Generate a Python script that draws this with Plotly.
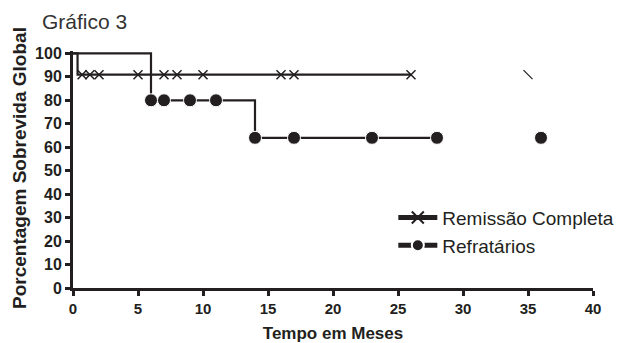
import plotly.graph_objects as go

# ---- data ----
# Remissão Completa
rc_step_times = [0, 0.35]
rc_step_surv = [100, 90.9]
rc_censor_times = [0.7, 1.3, 2, 5, 7, 8, 10, 16, 17, 26]
rc_censor_surv = [90.9] * 10
rc_orphan_times = [35]
rc_orphan_surv = [90.9]

# Refratários
rf_step_times = [0]
rf_step_surv = [100]
rf_censor_times = [6, 7, 9, 11, 14, 17, 23, 28]
rf_censor_surv = [80, 80, 80, 80, 64, 64, 64, 64]
rf_orphan_times = [36]
rf_orphan_surv = [64]

x_ticks = [0, 5, 10, 15, 20, 25, 30, 35, 40]
y_ticks = [0, 10, 20, 30, 40, 50, 60, 70, 80, 90, 100]

FONT = "Liberation Sans, Arial, sans-serif"
INK = "#231f20"

W, H = 619, 343
ML, MR, MT, MB = 73, 26, 51, 55
PW = W - ML - MR
PH = H - MT - MB


def build(step_t, step_s, cen_t, cen_s, orph_t, orph_s, msize):
    xs = list(step_t) + list(cen_t) + [None] + list(orph_t)
    ys = list(step_s) + list(cen_s) + [None] + list(orph_s)
    sizes = [0] * len(step_t) + [msize] * len(cen_t) + [0] + [msize] * len(orph_t)
    return xs, ys, sizes


fig = go.Figure()

x, y, s = build(rc_step_times, rc_step_surv, rc_censor_times, rc_censor_surv,
                [], [], 9)
fig.add_trace(go.Scatter(
    x=x, y=y, mode="lines+markers", name="Remissão Completa",
    line=dict(color=INK, width=2.2, shape="hv"),
    marker=dict(symbol="x-thin-open", size=s, color=INK, opacity=1,
                line=dict(color=INK, width=1.5)),
    cliponaxis=False,
))
fig.add_trace(go.Scatter(
    x=rc_orphan_times, y=rc_orphan_surv, mode="markers", showlegend=False,
    marker=dict(symbol="line-nw-open", size=9, color=INK, opacity=1,
                line=dict(color=INK, width=1.2)),
    cliponaxis=False,
))

x, y, s = build(rf_step_times, rf_step_surv, rf_censor_times, rf_censor_surv,
                rf_orphan_times, rf_orphan_surv, 13)
fig.add_trace(go.Scatter(
    x=x, y=y, mode="lines+markers", name="Refratários",
    line=dict(color=INK, width=2.2, shape="hv"),
    marker=dict(symbol="circle", size=s, color=INK, opacity=1),
    cliponaxis=False,
))

axis_common = dict(
    showgrid=False, zeroline=False, showline=True, linecolor=INK, linewidth=3,
    ticks="outside", ticklen=5, tickwidth=2.5, tickcolor=INK,
    title_font=dict(family=FONT, size=17, color=INK), automargin=False,
)

fig.update_layout(
    width=W, height=H,
    margin=dict(l=ML, r=MR, t=MT, b=MB, autoexpand=False),
    paper_bgcolor="white", plot_bgcolor="white",
    title=dict(text="Gráfico 3", x=42 / W, xanchor="left", y=1 - 22 / H,
               yanchor="middle", font=dict(family=FONT, size=21, color="#333")),
    xaxis=dict(range=[0, 40], tickvals=x_ticks,
               ticktext=[f"<b>{v}</b>" for v in x_ticks],
               tickfont=dict(family=FONT, size=15, color=INK),
               title=dict(text="<b>Tempo em Meses</b>"), **axis_common),
    yaxis=dict(range=[0, 101], tickvals=y_ticks,
               ticktext=[f"<b>{v}</b>" for v in y_ticks],
               tickfont=dict(family=FONT, size=16, color=INK),
               **axis_common),
    annotations=[dict(
        text="<b>Porcentagem Sobrevida Global</b>", textangle=-90,
        xref="paper", yref="paper", x=(19 - ML) / PW, y=(H - MB - 168) / PH,
        xanchor="center", yanchor="middle", showarrow=False,
        font=dict(family=FONT, size=19, color=INK),
    )],
    legend=dict(x=0.616, y=0.377, xanchor="left", yanchor="top",
                font=dict(family=FONT, size=19, color=INK),
                bgcolor="rgba(0,0,0,0)", itemsizing="constant",
                itemwidth=39, tracegroupgap=0),
    showlegend=True,
)

fig.write_html("out.html", config={"displayModeBar": False},
               post_script="document.body.style.margin='0';")
